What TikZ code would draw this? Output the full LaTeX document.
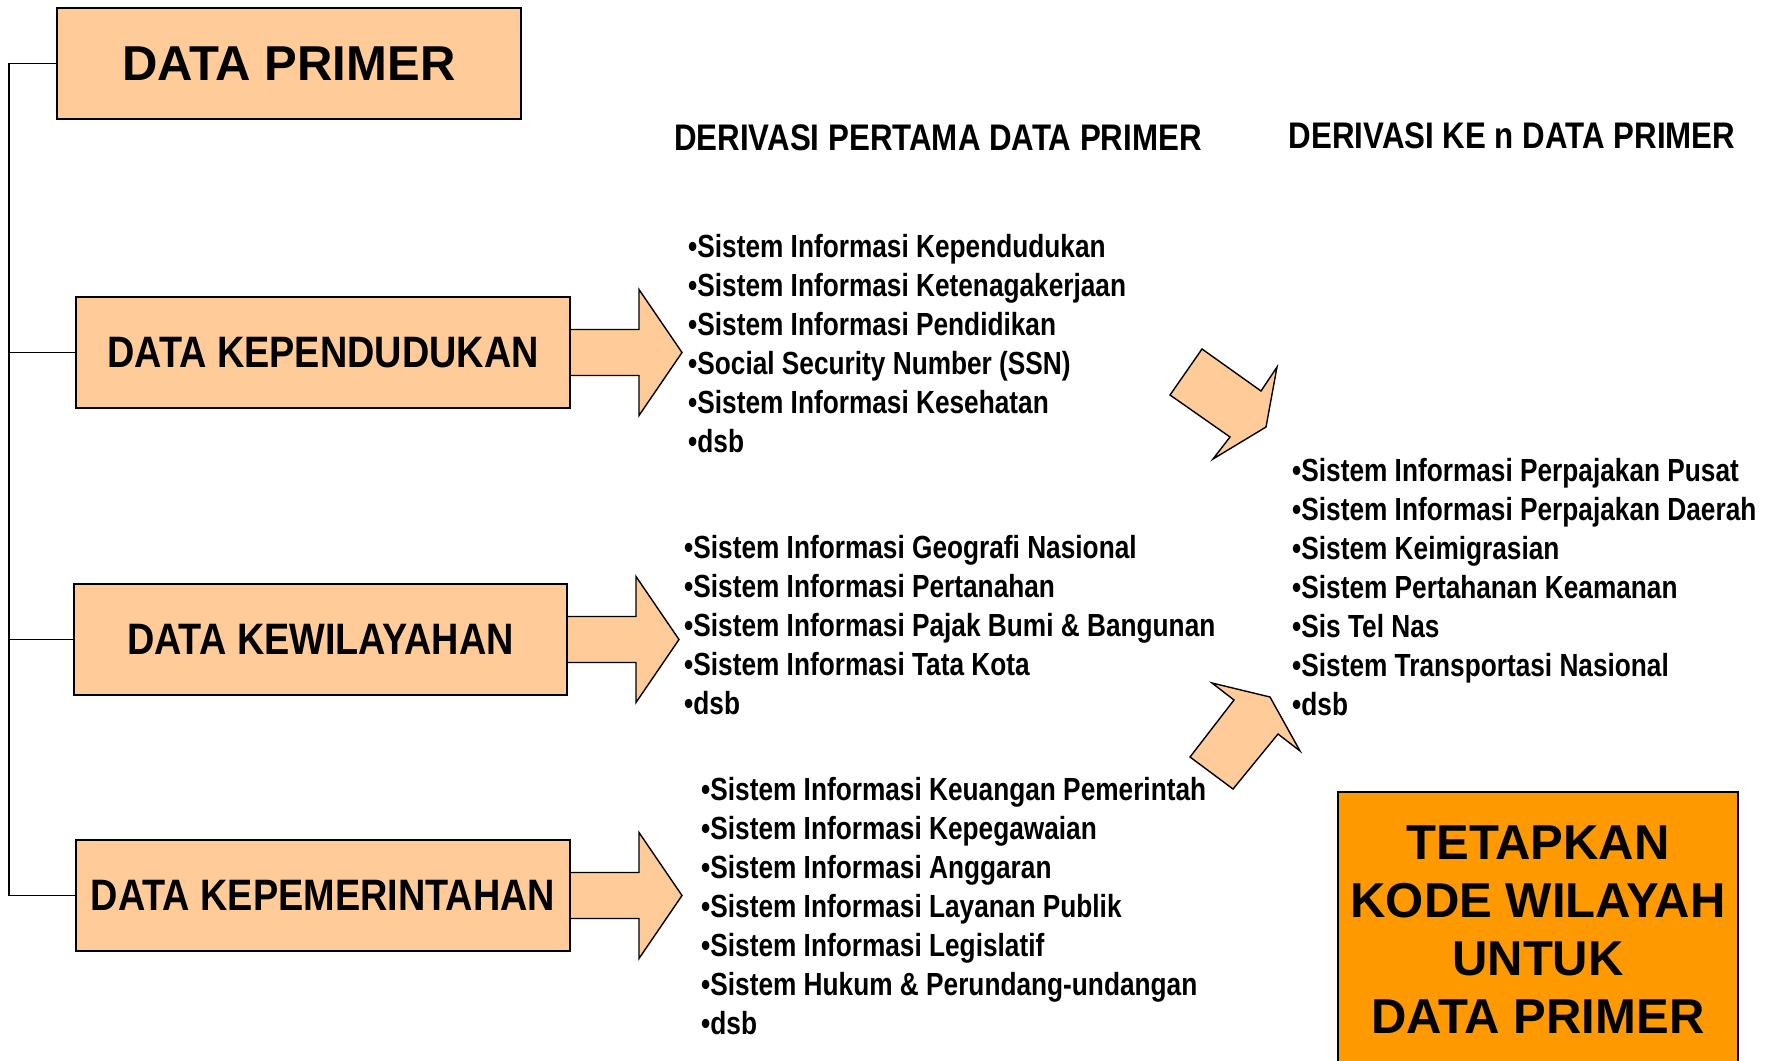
\documentclass[tikz,border=0pt]{standalone}
\usepackage{fontspec}
\setmainfont{Liberation Sans}
\newfontfamily\narrowf{Liberation Sans}[FakeStretch=0.82]
\newfontfamily\headf{Liberation Sans}[FakeStretch=0.845]
\newfontfamily\boxf{Liberation Sans}[FakeStretch=0.86]
\definecolor{peachc}{HTML}{FFCC99}
\definecolor{orangec}{HTML}{FF9900}
\begin{document}
\begin{tikzpicture}[x=1pt,y=-1pt,
  peachbox/.style={draw=black, line width=1.6pt, fill=peachc, minimum height=111pt, inner sep=0pt,
    font=\boxf\bfseries\fontsize{44}{50}\selectfont},
  blockarrow/.style={draw=black, line width=1.4pt, fill=peachc, line join=miter},
  conn/.style={draw=black, line width=1.6pt},
  item/.style={inner sep=0pt, anchor=base west, font=\narrowf\bfseries\fontsize{32}{39}\selectfont},
  header/.style={inner sep=0pt, anchor=base, font=\headf\bfseries\fontsize{37}{40}\selectfont}]
\clip (0,0) rectangle (1776,1060);
\fill[white] (0,0) rectangle (1776,1060);

% block arrows (drawn first, boxes cover their roots)
\draw[blockarrow] (540,329.5) -- (639,329.5) -- (639,289.5) -- (682,352.5) -- (639,415.5) -- (639,375.5) -- (540,375.5) -- cycle;
\draw[blockarrow] (537,616.5) -- (636,616.5) -- (636,576.5) -- (679,639.5) -- (636,702.5) -- (636,662.5) -- (537,662.5) -- cycle;
\draw[blockarrow] (540,872.5) -- (639,872.5) -- (639,832.5) -- (682,895.5) -- (639,958.5) -- (639,918.5) -- (540,918.5) -- cycle;

% boxes
\node[peachbox, minimum width=464pt, font=\bfseries\fontsize{49}{55}\selectfont] (prim) at (289,63.5) {DATA PRIMER};
\node[peachbox, minimum width=494pt] (kpd) at (323,352.5) {DATA KEPENDUDUKAN};
\node[peachbox, minimum width=493pt] (kwl) at (320.5,639.5) {DATA KEWILAYAHAN};
\node[peachbox, minimum width=494pt] (kpm) at (323,895.5) {DATA KEPEMERINTAHAN};

% bracket connectors
\coordinate (sp) at (9,0);
\draw[conn] (prim.west) -| (sp |- kpm.west) -- (kpm.west);
\draw[conn] (sp |- kpd.west) -- (kpd.west);
\draw[conn] (sp |- kwl.west) -- (kwl.west);

% headers
\node[header] (h1) at (938,150) {DERIVASI PERTAMA DATA PRIMER};
\node[header] (h2) at (1512,148) {DERIVASI KE n DATA PRIMER};

% lists
\foreach \t [count=\i] in {Sistem Informasi Kependudukan, Sistem Informasi Ketenagakerjaan, Sistem Informasi Pendidikan, Social Security Number (SSN), Sistem Informasi Kesehatan, dsb}
  \node[item] (la\i) at (688,{257+39*(\i-1)}) {•\t};
\foreach \t [count=\i] in {Sistem Informasi Geografi Nasional, Sistem Informasi Pertanahan, Sistem Informasi Pajak Bumi \& Bangunan, Sistem Informasi Tata Kota, dsb}
  \node[item] (lb\i) at (684,{558+39*(\i-1)}) {•\t};
\foreach \t [count=\i] in {Sistem Informasi Keuangan Pemerintah, Sistem Informasi Kepegawaian, Sistem Informasi Anggaran, Sistem Informasi Layanan Publik, Sistem Informasi Legislatif, Sistem Hukum \& Perundang-undangan, dsb}
  \node[item] (lc\i) at (701,{800+39*(\i-1)}) {•\t};
\foreach \t [count=\i] in {Sistem Informasi Perpajakan Pusat, Sistem Informasi Perpajakan Daerah, Sistem Keimigrasian, Sistem Pertahanan Keamanan, Sis Tel Nas, Sistem Transportasi Nasional, dsb}
  \node[item] (ld\i) at (1292,{481+39*(\i-1)}) {•\t};

% diagonal block arrows
\draw[blockarrow] (1170,395) -- (1202,349) -- (1261,391) -- (1277,367) -- (1266,427) -- (1213,459) -- (1230,437) -- cycle;
\draw[blockarrow] (1190,757) -- (1234,700) -- (1212,683) -- (1270,697) -- (1300,751) -- (1278,734) -- (1233,789) -- cycle;

% result box
\node[draw=black, line width=1.6pt, fill=orangec, minimum width=400pt, minimum height=276pt, inner sep=0pt, align=center,
  font=\bfseries\fontsize{49}{58}\selectfont] (kode) at (1538,930) {TETAPKAN\\KODE WILAYAH\\UNTUK\\DATA PRIMER};
\end{tikzpicture}
\end{document}
